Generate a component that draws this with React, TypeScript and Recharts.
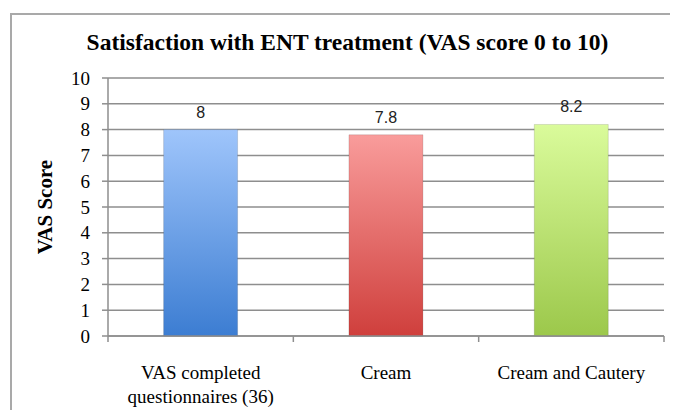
import React from "react";
import { BarChart, Bar, XAxis, YAxis, CartesianGrid, Cell, LabelList, Text } from "recharts";

const categories = ["VAS completed questionnaires (36)", "Cream", "Cream and Cautery"];
const scores = [8, 7.8, 8.2];
const yTicks = [0, 1, 2, 3, 4, 5, 6, 7, 8, 9, 10];
const title = "Satisfaction with ENT treatment (VAS score 0 to 10)";
const yLabel = "VAS Score";
const gradTop = ["#9fc5fb", "#f99c9b", "#dafb9b"];
const gradBottom = ["#3c7dd2", "#cf3f3c", "#9cc84b"];

const data = categories.map((name, i) => ({ name, score: scores[i] }));

const W = 670;
const H = 402;
const AXIS = "#8e8e8e";
const SERIF = "'Liberation Serif', 'Times New Roman', serif";
const SANS = "'Liberation Sans', Arial, sans-serif";

function XTick(props: any) {
  const { x, y, payload, index } = props;
  const half = payload && typeof payload.offset === "number" && payload.offset > 0 ? payload.offset : 92.7;
  const isLast = index === categories.length - 1;
  return (
    <g>
      <line x1={x - half} x2={x - half} y1={y} y2={y + 6} stroke={AXIS} strokeWidth={1.5} />
      {isLast && <line x1={x + half} x2={x + half} y1={y} y2={y + 6} stroke={AXIS} strokeWidth={1.5} />}
      <Text
        x={x}
        y={y + 30}
        width={172}
        textAnchor="middle"
        verticalAnchor="start"
        lineHeight={24}
        fontSize={19}
        fontFamily={SERIF}
        fill="#000"
      >
        {payload.value}
      </Text>
    </g>
  );
}

function YTick(props: any) {
  const { x, y, payload } = props;
  return (
    <text x={x} y={y} dy={6.5} textAnchor="end" fontSize={19} fontFamily={SERIF} fill="#000">
      {payload.value}
    </text>
  );
}

export default function App() {
  return (
    <div style={{ position: "relative", width: W, height: H, overflow: "hidden", background: "#fff" }}>
      <div
        style={{
          position: "absolute",
          left: 2,
          top: 5,
          width: 900,
          height: 700,
          borderLeft: "2px solid #a9a9a9",
          borderTop: "2px solid #a9a9a9",
        }}
      />
      <div style={{ position: "absolute", left: 0, top: 0 }}>
        <BarChart
          width={W}
          height={H}
          data={data}
          margin={{ top: 70, right: 14, bottom: 0, left: 0 }}
          barCategoryGap="30%"
        >
          <defs>
            {gradTop.map((c, i) => (
              <linearGradient key={i} id={`barGrad${i}`} x1="0" y1="0" x2="0" y2="1">
                <stop offset="0%" stopColor={c} />
                <stop offset="100%" stopColor={gradBottom[i]} />
              </linearGradient>
            ))}
          </defs>
          <CartesianGrid vertical={false} stroke={AXIS} strokeWidth={1.5} />
          <XAxis
            dataKey="name"
            height={74}
            interval={0}
            tickLine={false}
            tickSize={0}
            tickMargin={0}
            axisLine={{ stroke: AXIS, strokeWidth: 1.5 }}
            tick={<XTick />}
          />
          <YAxis
            width={100}
            domain={[0, 10]}
            ticks={yTicks}
            interval={0}
            tickSize={6}
            tickMargin={12}
            axisLine={{ stroke: AXIS, strokeWidth: 1.5 }}
            tickLine={{ stroke: AXIS, strokeWidth: 1.5 }}
            tick={<YTick />}
            label={{
              value: yLabel,
              angle: -90,
              position: "insideLeft",
              offset: 37,
              style: { textAnchor: "middle", fontWeight: 700, fontSize: 21, fontFamily: SERIF, fill: "#000" },
            }}
          />
          <Bar dataKey="score" isAnimationActive={false} stroke="rgba(0,0,0,0.12)" strokeWidth={1}>
            {data.map((d, i) => (
              <Cell key={d.name} fill={`url(#barGrad${i})`} />
            ))}
            <LabelList dataKey="score" position="top" offset={12} fill="#222" fontSize={16} fontFamily={SANS} />
          </Bar>
        </BarChart>
      </div>
      <svg width={W} height={H} style={{ position: "absolute", left: 0, top: 0, pointerEvents: "none" }}>
        <text x={339.5} y={42} textAnchor="middle" fontSize={23.5} fontWeight={700} fontFamily={SERIF} fill="#000">
          {title}
        </text>
      </svg>
    </div>
  );
}
